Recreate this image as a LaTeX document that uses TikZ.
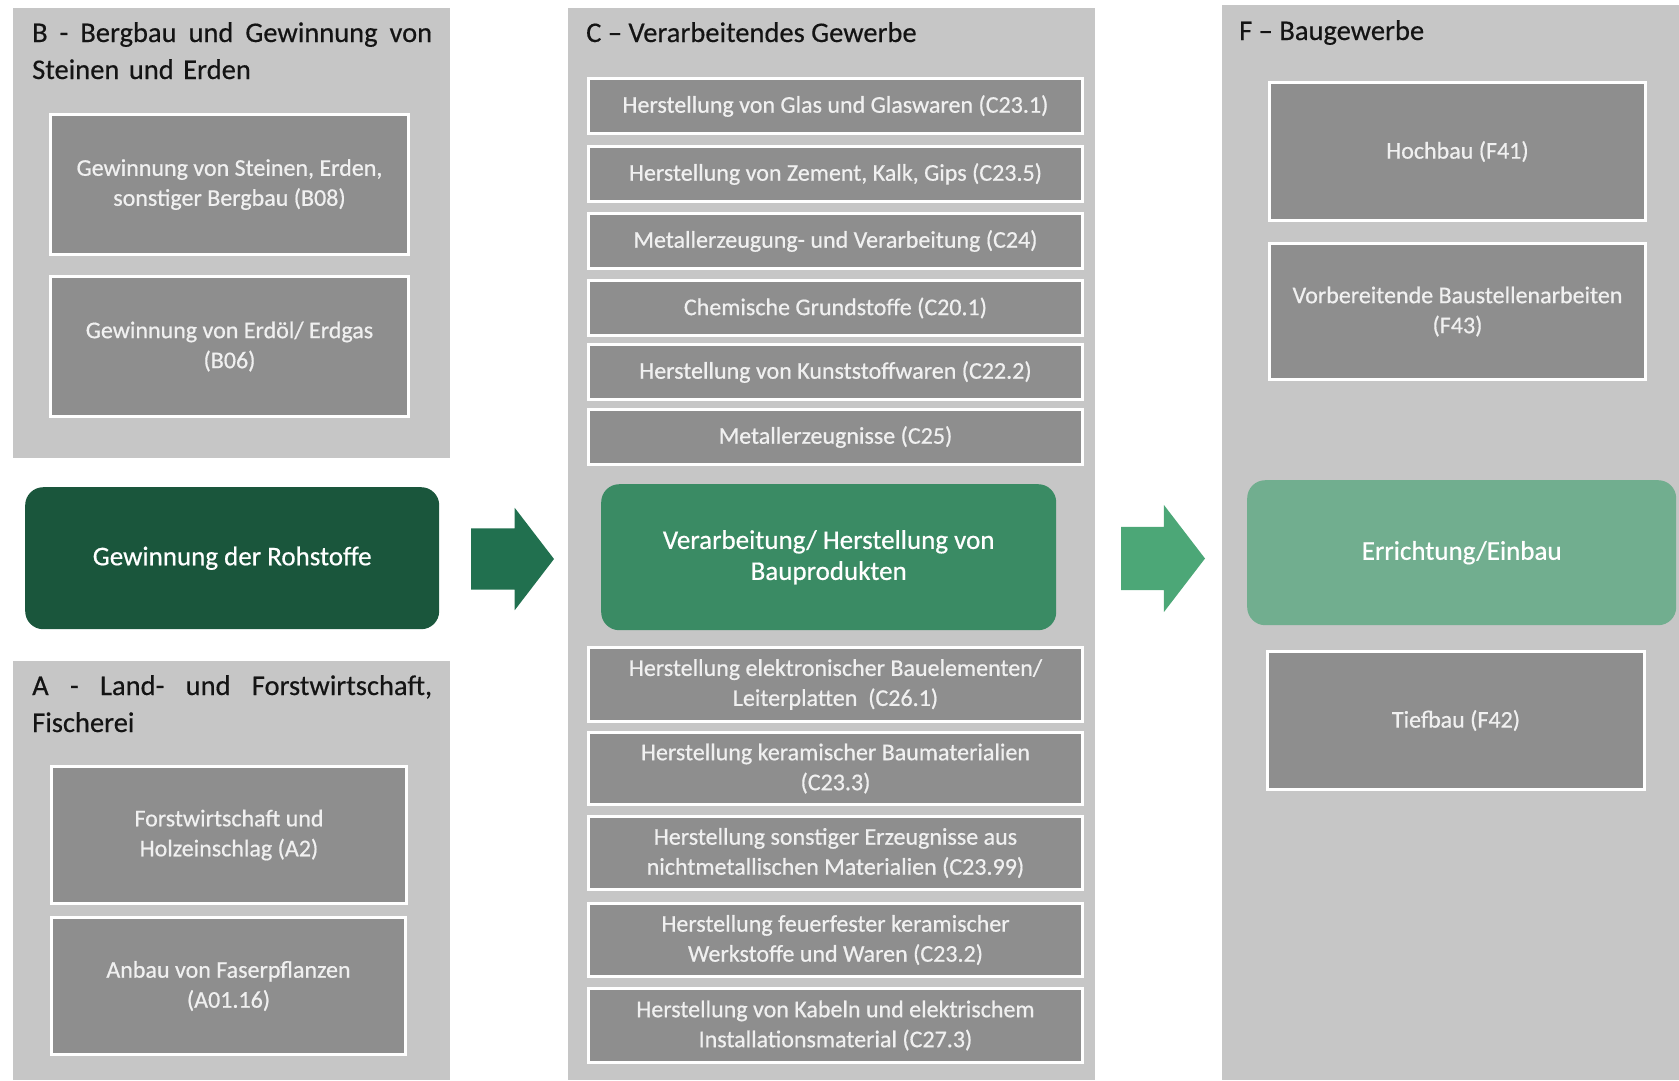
\documentclass[tikz,border=0pt]{standalone}
\usepackage{fontspec}
\setmainfont{Carlito}
\newfontfamily\boxfont{Carlito}[FakeBold=0.6]
\newfontfamily\titlefont{Carlito}[FakeBold=0.4]
\usetikzlibrary{shapes.arrows}
\definecolor{panelgray}{HTML}{C6C6C6}
\definecolor{sectorgray}{HTML}{8E8E8E}
\definecolor{sectortext}{HTML}{F0F0F0}
\definecolor{titleblack}{HTML}{141414}
\definecolor{rawgreen}{HTML}{1A563C}
\definecolor{rawarrow}{HTML}{21704F}
\definecolor{prodgreen}{HTML}{3A8B64}
\definecolor{prodarrow}{HTML}{4CA777}
\definecolor{buildgreen}{HTML}{71AE8F}
\begin{document}
\begin{tikzpicture}[x=1pt, y=-1pt,
panel/.style={fill=panelgray, inner sep=0pt, outer sep=0pt, anchor=north west},
paneltitle/.style={font=\titlefont\fontsize{28.5}{37}\selectfont, text=titleblack, inner sep=0pt, anchor=base west, align=left},
sector/.style={draw=white, line width=3pt, fill=sectorgray, text=sectortext, font=\boxfont\fontsize{24}{30}\selectfont, align=center, inner sep=0pt, anchor=north west},
stage/.style={rounded corners=18pt, text=white, font=\boxfont\fontsize{27}{31}\selectfont, align=center, inner sep=0pt, anchor=north west},
flow/.style={single arrow, single arrow tip angle=105, inner xsep=0pt, outer sep=0pt, anchor=tail}]
\useasboundingbox (0,0) rectangle (1679,1080);

\node[panel, minimum width=437pt, minimum height=450pt] (secB) at (13,8) {};
\node[panel, minimum width=437pt, minimum height=419pt] (secA) at (13,661) {};
\node[panel, minimum width=527pt, minimum height=1072pt] (secC) at (568,8) {};
\node[panel, minimum width=457pt, minimum height=1075pt] (secF) at (1222,5) {};

\node[paneltitle, text width=400pt] (titB) at (32,42) {\hbox to 400pt{B\hfill-\hfill Bergbau\hfill und\hfill Gewinnung\hfill von}\\\hbox{Steinen und Erden}};
\node[paneltitle, text width=400pt] (titA) at (32,695) {\hbox to 400pt{A\hfill-\hfill Land-\hfill und\hfill Forstwirtschaft,}\\\hbox{Fischerei}};
\node[paneltitle] (titC) at (586,42) {C – Verarbeitendes Gewerbe};
\node[paneltitle] (titF) at (1239,40) {F – Baugewerbe};

\node[sector, minimum width=358pt, minimum height=140pt] (b08) at (49,113) {Gewinnung von Steinen, Erden,\\sonstiger Bergbau (B08)};
\node[sector, minimum width=358pt, minimum height=140pt] (b06) at (49,275) {Gewinnung von Erdöl/ Erdgas\\(B06)};
\node[sector, minimum width=355pt, minimum height=137pt] (a2) at (50,765) {Forstwirtschaft und\\Holzeinschlag (A2)};
\node[sector, minimum width=354pt, minimum height=137pt] (a0116) at (50,916) {Anbau von Faserpflanzen\\(A01.16)};

\node[sector, minimum width=494pt, minimum height=55pt] (c231) at (587,77) {Herstellung von Glas und Glaswaren (C23.1)};
\node[sector, minimum width=494pt, minimum height=55pt] (c235) at (587,145) {Herstellung von Zement, Kalk, Gips (C23.5)};
\node[sector, minimum width=494pt, minimum height=55pt] (c24) at (587,212) {Metallerzeugung- und Verarbeitung (C24)};
\node[sector, minimum width=494pt, minimum height=55pt] (c201) at (587,279) {Chemische Grundstoffe (C20.1)};
\node[sector, minimum width=494pt, minimum height=55pt] (c222) at (587,343) {Herstellung von Kunststoffwaren (C22.2)};
\node[sector, minimum width=494pt, minimum height=55pt] (c25) at (587,408) {Metallerzeugnisse (C25)};
\node[sector, minimum width=494pt, minimum height=74pt] (c261) at (587,646) {Herstellung elektronischer Bauelementen/\\Leiterplatten\ \ (C26.1)};
\node[sector, minimum width=494pt, minimum height=72pt] (c233) at (587,731) {Herstellung keramischer Baumaterialien\\(C23.3)};
\node[sector, minimum width=494pt, minimum height=73pt] (c2399) at (587,815) {Herstellung sonstiger Erzeugnisse aus\\nichtmetallischen Materialien (C23.99)};
\node[sector, minimum width=494pt, minimum height=73pt] (c232) at (587,902) {Herstellung feuerfester keramischer\\Werkstoffe und Waren (C23.2)};
\node[sector, minimum width=494pt, minimum height=74pt] (c273) at (587,987) {Herstellung von Kabeln und elektrischem\\Installationsmaterial (C27.3)};

\node[sector, minimum width=376pt, minimum height=138pt] (f41) at (1268,81) {Hochbau (F41)};
\node[sector, minimum width=376pt, minimum height=136pt] (f43) at (1268,242) {Vorbereitende Baustellenarbeiten\\(F43)};
\node[sector, minimum width=377pt, minimum height=138pt] (f42) at (1266,650) {Tiefbau (F42)};

\node[stage, fill=rawgreen, minimum width=414pt, minimum height=142pt] (raw) at (25,487) {Gewinnung der Rohstoffe};
\node[stage, fill=prodgreen, minimum width=455pt, minimum height=146pt] (prod) at (601,484) {Verarbeitung/ Herstellung von\\Bauprodukten};
\node[stage, fill=buildgreen, minimum width=429pt, minimum height=145pt] (build) at (1247,480) {Errichtung/Einbau};

\node[flow, fill=rawarrow, minimum height=83pt, inner ysep=30.5pt, single arrow head extend=20.5pt] (rawtoprod) at (471,559) {};
\node[flow, fill=prodarrow, minimum height=84pt, inner ysep=31.5pt, single arrow head extend=22pt] (prodtobuild) at (1121,558.5) {};
\end{tikzpicture}
\end{document}
